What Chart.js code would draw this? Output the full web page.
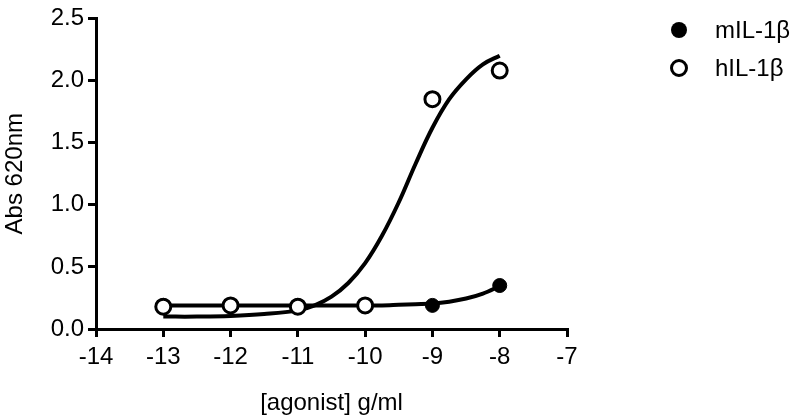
<!DOCTYPE html>
<html>
<head>
<meta charset="utf-8">
<title>Abs 620nm vs agonist</title>
<script src="https://cdn.jsdelivr.net/npm/chart.js@4.4.1/dist/chart.umd.min.js"></script>
<style>
    body { margin: 0; background: #fff; }
    #wrap { position: relative; width: 796px; height: 419px; }
    .legend-item { position: absolute; left: 671px; height: 24px; display: flex; align-items: center;
        font-family: "Liberation Sans", Arial, sans-serif; font-size: 24px; color: #000; }
    .dot { width: 16px; height: 16px; border-radius: 50%; box-sizing: border-box; margin-right: 28px; }
    .dot.filled { background: #000; }
    .dot.open { width: 18px; height: 18px; border: 3px solid #000; background: #fff; margin-left: -1px; margin-right: 27px; }
</style>
</head>
<body>
<div id="wrap">
    <canvas id="chart" width="796" height="419"></canvas>
    <div class="legend-item" style="top:18px"><span class="dot filled"></span>mIL-1β</div>
    <div class="legend-item" style="top:56px"><span class="dot open"></span>hIL-1β</div>
</div>
<script>
// log10 of agonist concentration (g/ml)
const doseLevels = [-13, -12, -11, -10, -9, -8];
const mILValues = [0.19, 0.19, 0.19, 0.19, 0.19, 0.35];
const hILValues = [0.18, 0.19, 0.18, 0.19, 1.85, 2.08];

// fitted curves
const fitX = [-13, -12.5, -12, -11.5, -11, -10.75, -10.5, -10.25, -10, -9.75, -9.5, -9.25, -9, -8.75, -8.5, -8.25, -8];
const mILFit = [0.19, 0.19, 0.19, 0.19, 0.19, 0.19, 0.19, 0.19, 0.19, 0.19, 0.195, 0.2, 0.205, 0.22, 0.245, 0.285, 0.345];
const hILFit = [0.10, 0.10, 0.105, 0.12, 0.15, 0.19, 0.26, 0.37, 0.53, 0.75, 1.02, 1.33, 1.62, 1.85, 2.01, 2.13, 2.20];

const xTicks = [-14, -13, -12, -11, -10, -9, -8, -7];
const yTicks = [0, 0.5, 1.0, 1.5, 2.0, 2.5];

const pts = (xs, ys) => xs.map((x, i) => ({ x: x, y: ys[i] }));
const font = { family: '"Liberation Sans", Arial, sans-serif', size: 24 };

new Chart(document.getElementById('chart').getContext('2d'), {
    type: 'scatter',
    data: {
        datasets: [
            {
                label: 'hIL-1β', data: pts(doseLevels, hILValues), order: 0,
                pointRadius: 7.5, pointBorderWidth: 3, pointBackgroundColor: '#fff', pointBorderColor: '#000'
            },
            {
                label: 'mIL-1β', data: pts(doseLevels, mILValues), order: 1,
                pointRadius: 7, pointBorderWidth: 1, pointBackgroundColor: '#000', pointBorderColor: '#000'
            },
            {
                label: 'hIL fit', data: pts(fitX, hILFit), order: 2, showLine: true,
                borderColor: '#000', borderWidth: 4, pointRadius: 0, tension: 0.4
            },
            {
                label: 'mIL fit', data: pts(fitX, mILFit), order: 3, showLine: true,
                borderColor: '#000', borderWidth: 4, pointRadius: 0, cubicInterpolationMode: 'monotone'
            }
        ]
    },
    options: {
        responsive: false,
        animation: false,
        layout: { padding: { left: 0, top: 16, right: 229, bottom: 0 } },
        plugins: { legend: { display: false }, tooltip: { enabled: false } },
        scales: {
            x: {
                type: 'linear', min: -14, max: -7,
                afterBuildTicks: s => { s.ticks = xTicks.map(v => ({ value: v })); },
                afterFit: s => { s.height = 90; },
                ticks: { font: font, color: '#000', padding: 6, maxRotation: 0 },
                grid: { drawOnChartArea: false, drawTicks: true, tickLength: 8, color: '#000', lineWidth: 3 },
                border: { color: '#000', width: 3 },
                title: { display: true, text: '[agonist] g/ml', font: font, color: '#000', padding: { top: 0, bottom: 1 } }
            },
            y: {
                min: 0, max: 2.5,
                afterBuildTicks: s => { s.ticks = yTicks.map(v => ({ value: v })); },
                afterFit: s => { s.width = 96; },
                ticks: { font: font, color: '#000', padding: 4, callback: v => v.toFixed(1) },
                grid: { drawOnChartArea: false, drawTicks: true, tickLength: 8, color: '#000', lineWidth: 3 },
                border: { color: '#000', width: 3 },
                title: { display: true, text: 'Abs 620nm', font: font, color: '#000', padding: { top: 1, bottom: 0 } }
            }
        }
    }
});
</script>
</body>
</html>
